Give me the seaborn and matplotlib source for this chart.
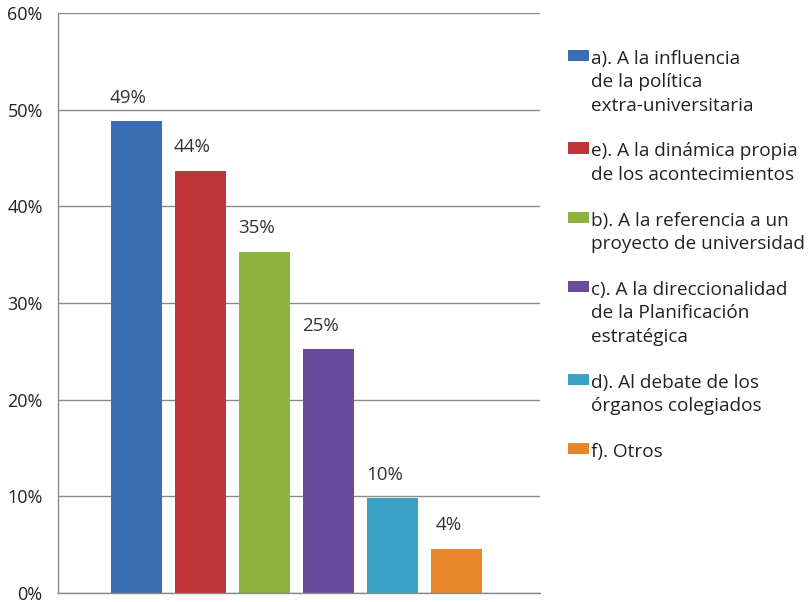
import matplotlib
matplotlib.use("Agg")
import matplotlib.pyplot as plt
import seaborn as sns
import pandas as pd
from matplotlib.patches import Patch

categories = ["a). A la influencia\nde la política\nextra-universitaria",
              "e). A la dinámica propia\nde los acontecimientos",
              "b). A la referencia a un\nproyecto de universidad",
              "c). A la direccionalidad\nde la Planificación\nestratégica",
              "d). Al debate de los\nórganos colegiados",
              "f). Otros"]
values = [48.8, 43.7, 35.3, 25.2, 9.8, 4.6]
value_labels = ["49%", "44%", "35%", "25%", "10%", "4%"]
colors = ["#3b6db5", "#c03638", "#8cb33d", "#6a4a9b", "#3aa2c6", "#e6852a"]
yticks = [0, 10, 20, 30, 40, 50, 60]
ytick_labels = ["0%", "10%", "20%", "30%", "40%", "50%", "60%"]

sns.set_theme(style="white")
plt.rcParams['font.family'] = ['Open Sans', 'DejaVu Sans']

df = pd.DataFrame({"cat": categories, "val": values})

fig = plt.figure(figsize=(8.12, 6.02), dpi=100)
ax = fig.add_axes([58/812, 9/602, (540-58)/812, (593-13)/602])

sns.barplot(data=df, x="cat", y="val", hue="cat", palette=colors, ax=ax,
            width=0.8, legend=False, saturation=1, edgecolor="none")

for p, lab in zip(ax.patches, value_labels):
    ax.text(p.get_x() + p.get_width() / 2 - 0.13, p.get_height() + 1.5, lab,
            ha="center", va="bottom", fontsize=13.5, color="#333333")

ax.set_ylim(0, 60)
ax.set_xlim(-1.23, 6.3)
ax.set_yticks(yticks)
ax.set_yticklabels(ytick_labels, fontsize=13, color="#222222")
ax.set_xticks([])
ax.set_xlabel("")
ax.set_ylabel("")
ax.tick_params(axis="y", length=0, pad=11)
ax.yaxis.grid(True, color="#8a8a8a", linewidth=1)
ax.set_axisbelow(True)
for s in ["top", "right"]:
    ax.spines[s].set_visible(False)
for s in ["left", "bottom"]:
    ax.spines[s].set_color("#8a8a8a")
    ax.spines[s].set_linewidth(1)

handles = [Patch(facecolor=c, edgecolor="none") for c in colors]
leg = fig.legend(handles, categories, loc="upper left",
                 bbox_to_anchor=(560/812, 1 - 42/602), frameon=False,
                 fontsize=13.7, handlelength=1.1, handleheight=0.55,
                 handletextpad=0.15, labelspacing=1.45, borderaxespad=0)
for t in leg.get_texts():
    t.set_color("#222222")
    t.set_linespacing(1.4)
try:
    for hp in leg._legend_handle_box.get_children():
        for item in hp.get_children():
            item.align = "top"
except Exception:
    pass

fig.savefig("out.png", dpi=100)
